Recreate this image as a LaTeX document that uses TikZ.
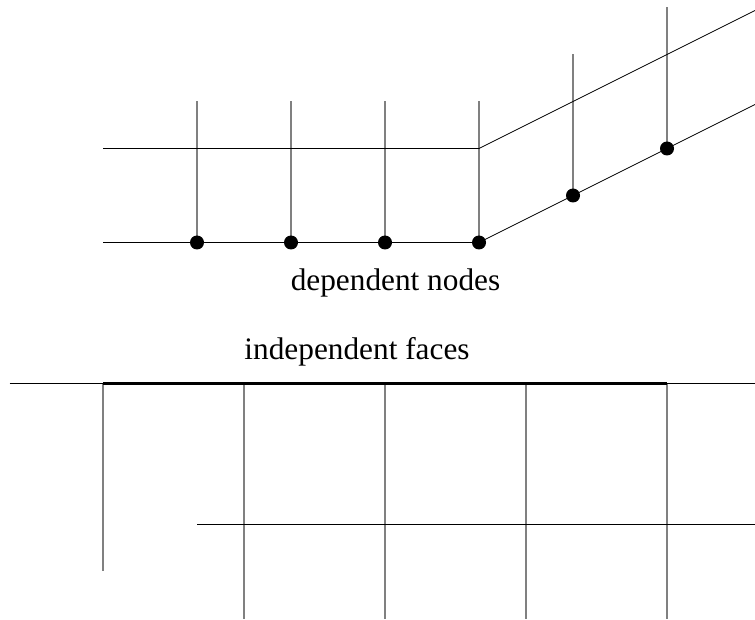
\documentclass[tikz,border=0pt]{standalone}
\usepackage{fontspec}
\setmainfont{Liberation Serif}
\begin{document}
\begin{tikzpicture}[x=1pt,y=-1pt,
  ln/.style={line width=0.75pt,black},
  vln/.style={line width=2pt,black!50},
  thick line/.style={line width=3pt,black},
  dot/.style={circle,fill=black,inner sep=0pt,minimum size=14pt},
  lbl/.style={inner sep=0pt,anchor=base,font=\fontsize{31.3pt}{34pt}\selectfont}]
\useasboundingbox (0,0) rectangle (755,620);
\foreach \n/\x/\y in {at/197/101,bt/291/101,ct/385/101,dt/479/101,et/573/54,ft/667/7,
  l1/103/148.5,l2/103/242.5,m/479/148.5,r1/755/10.5,r2/755/104.5}
  \coordinate (\n) at (\x,\y);
\foreach \n/\x/\y in {a/197/242.5,b/291/242.5,c/385/242.5,d/479/242.5,e/573/195.5,f/667/148.5}
  \coordinate (\n) at (\x,\y);
\foreach \n in {a,b,c,d,e,f} \draw[vln] (\n) -- (\n t);
\draw[ln] (l1) -- (m) -- (r1);
\draw[ln] (l2) -- (d) -- (r2);
\foreach \n/\x/\y in {na/197/242.5,nb/291/242.5,nc/385/242.5,nd/479/242.5,ne/573/195.5,nf/667/148.5}
  \node[dot] (\n) at (\x,\y) {};
\node[lbl] (t1) at (395.5,291) {dependent nodes};
\node[lbl] (t2) at (357,359.5) {independent faces};
\coordinate (p0) at (9.5,383.5); \coordinate (p1) at (103,383.5); \coordinate (p2) at (667,383.5); \coordinate (p3) at (755,383.5);
\draw[ln] (p0) -- (p1); 
\coordinate (q) at (103,571);
\draw[vln] (p1) -- (q);
\foreach \n/\x in {g/244,h/385,i/526,j/667}{
  \coordinate (\n a) at (\x,383.5); \coordinate (\n b) at (\x,619);
  \draw[vln] (\n a) -- (\n b);}
\draw[thick line] (p1) -- (p2); \draw[ln] (p2) -- (p3);
\coordinate (s0) at (197,524.5); \coordinate (s1) at (755,524.5);
\draw[ln] (s0) -- (s1);
\end{tikzpicture}
\end{document}
